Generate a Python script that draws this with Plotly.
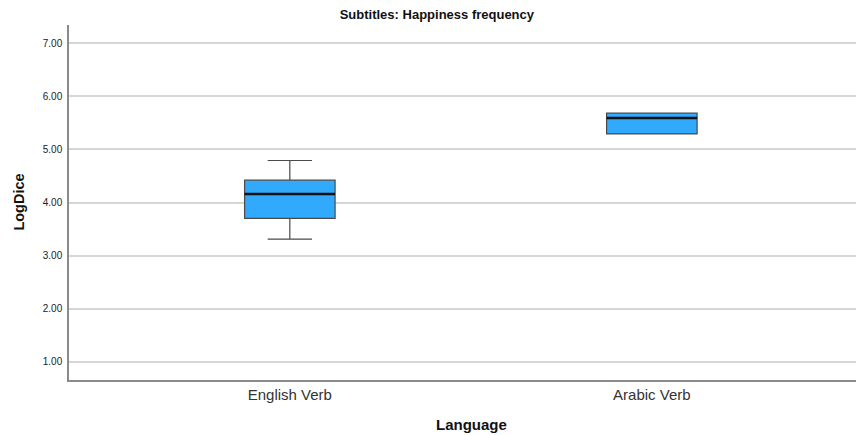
import plotly.graph_objects as go

categories = ["English Verb", "Arabic Verb"]
q1 = [3.70, 5.29]
median = [4.16, 5.59]
q3 = [4.42, 5.68]
lower = [3.31, 5.29]
upper = [4.79, 5.68]
y_ticks = [1.0, 2.0, 3.0, 4.0, 5.0, 6.0, 7.0]

pos = list(range(len(categories)))
box_w = 0.25

fig = go.Figure()
fig.add_trace(go.Box(
    x=pos, q1=q1, median=median, q3=q3, lowerfence=lower, upperfence=upper,
    width=box_w, whiskerwidth=0.49,
    fillcolor="#31a9fd", line=dict(color="#4a4a4a", width=1.2),
    boxpoints=False, hoverinfo="skip", showlegend=False,
))
for p, m in zip(pos, median):
    fig.add_trace(go.Scatter(
        x=[p - box_w / 2, p + box_w / 2], y=[m, m], mode="lines",
        line=dict(color="#111111", width=2.5), showlegend=False, hoverinfo="skip",
    ))

fig.update_layout(
    width=856, height=427,
    margin=dict(l=61, r=0, t=17, b=55),
    paper_bgcolor="white", plot_bgcolor="white",
    font=dict(family="Liberation Sans, Arial, sans-serif", color="#222"),
    title=dict(text="<b>Subtitles: Happiness frequency</b>", x=0.501, xanchor="center",
               y=0.984, yanchor="middle", font=dict(size=13, color="#111")),
    xaxis=dict(range=[-0.61, 1.586], tickvals=pos, ticktext=categories,
               tickfont=dict(size=15, color="#333"), showgrid=False, zeroline=False,
               showline=True, linecolor="#8a8a8a", linewidth=1.5, ticks=""),
    yaxis=dict(range=[0.66, 7.34], tickvals=y_ticks,
               ticktext=["%.2f" % v for v in y_ticks],
               tickfont=dict(size=10, color="#222"), showgrid=True,
               gridcolor="#d6d6d6", gridwidth=1.5, zeroline=False,
               showline=True, linecolor="#8a8a8a", linewidth=1.5, ticks="",
               ticklabelstandoff=3),
    annotations=[
        dict(text="<b>LogDice</b>", x=-0.064, y=0.5, xref="paper", yref="paper",
             xanchor="center", yanchor="middle",
             showarrow=False, textangle=-90, font=dict(size=14.5, color="#111")),
        dict(text="<b>Language</b>", x=0.506, y=-0.124, xref="paper", yref="paper",
             xanchor="center", yanchor="middle", showarrow=False,
             font=dict(size=15, color="#111")),
    ],
)
fig.write_html("out.html")
